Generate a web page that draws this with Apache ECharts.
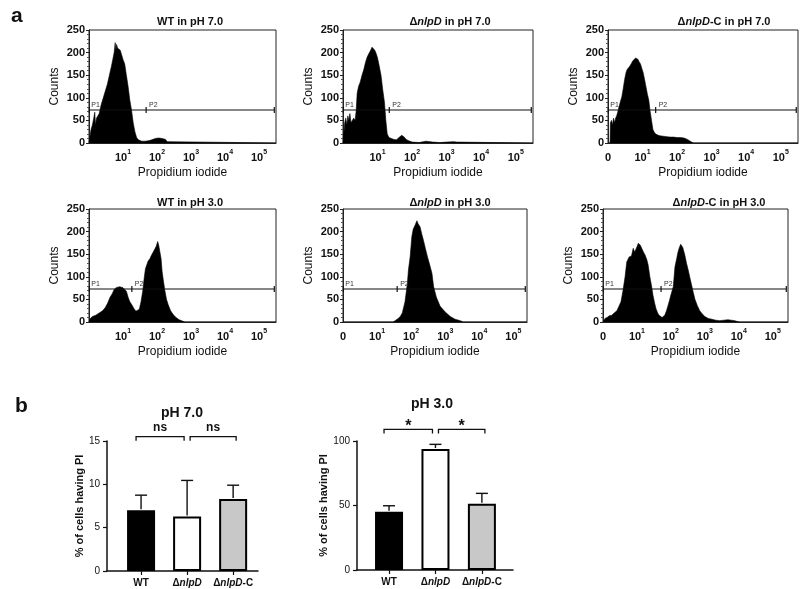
<!DOCTYPE html>
<html><head><meta charset="utf-8">
<script src="https://cdn.jsdelivr.net/npm/echarts@6/dist/echarts.min.js"></script>
<style>html,body{margin:0;padding:0;background:#fff}#c{width:800px;height:589px}</style>
</head><body><div id="c"></div><script>
// ---------- DATA ----------
// histogram x = log10(Propidium iodide), y = counts
const wt7 = [[0,0],[0.04,0],[0.06,30],[0.1,40],[0.14,55],[0.17,68],[0.19,40],[0.22,55],[0.26,60],[0.3,65],[0.36,85],[0.42,100],[0.48,115],[0.54,130],[0.6,150],[0.66,170],[0.7,185],[0.74,200],[0.77,222],[0.79,205],[0.81,218],[0.84,210],[0.88,212],[0.92,205],[0.96,195],[1.0,185],[1.05,175],[1.1,150],[1.15,125],[1.2,95],[1.25,73],[1.3,45],[1.35,25],[1.4,12],[1.45,7],[1.55,4],[1.65,4],[1.75,5],[1.85,7],[1.95,10],[2.05,11],[2.15,10],[2.25,8],[2.3,3],[2.35,0],[5.5,0]];
const dnlpd7 = [[0,0],[0.04,0],[0.05,45],[0.08,55],[0.11,40],[0.14,60],[0.17,50],[0.2,65],[0.23,45],[0.27,50],[0.31,55],[0.35,50],[0.38,70],[0.41,110],[0.45,125],[0.5,135],[0.55,150],[0.6,162],[0.65,178],[0.7,190],[0.75,198],[0.8,205],[0.84,212],[0.88,208],[0.92,205],[0.96,198],[1.0,188],[1.05,170],[1.1,150],[1.15,118],[1.2,90],[1.24,50],[1.28,20],[1.33,12],[1.4,10],[1.47,8],[1.55,7],[1.62,12],[1.7,17],[1.76,14],[1.83,8],[1.9,5],[2.0,2],[2.2,1],[2.4,4],[2.6,2],[2.8,1],[3.0,2],[3.2,3],[3.3,2],[3.34,0],[5.5,0]];
const comp7 = [[0,0],[0.06,0],[0.07,45],[0.1,50],[0.13,40],[0.16,55],[0.19,45],[0.22,55],[0.25,60],[0.28,68],[0.32,80],[0.36,92],[0.4,102],[0.44,120],[0.48,140],[0.52,155],[0.55,162],[0.59,160],[0.63,170],[0.67,175],[0.72,182],[0.76,186],[0.8,188],[0.84,192],[0.87,185],[0.9,180],[0.94,175],[0.98,165],[1.02,155],[1.06,140],[1.1,124],[1.14,108],[1.18,95],[1.22,70],[1.26,50],[1.3,30],[1.35,22],[1.42,18],[1.5,16],[1.6,15],[1.7,14],[1.8,13],[1.9,13],[2.0,12],[2.1,12],[2.2,11],[2.3,8],[2.38,4],[2.43,2],[2.47,0],[5.5,0]];
const wt3 = [[0,0],[0.02,0],[0.04,8],[0.1,12],[0.2,15],[0.3,20],[0.4,25],[0.48,32],[0.55,42],[0.62,55],[0.68,62],[0.74,72],[0.8,76],[0.85,80],[0.9,78],[0.95,82],[1.0,76],[1.05,72],[1.1,68],[1.15,55],[1.2,45],[1.26,38],[1.32,30],[1.38,24],[1.43,22],[1.48,28],[1.53,45],[1.58,68],[1.62,95],[1.66,118],[1.7,122],[1.74,135],[1.79,140],[1.84,148],[1.89,155],[1.94,162],[1.98,168],[2.02,178],[2.05,170],[2.09,166],[2.12,140],[2.15,112],[2.19,90],[2.23,70],[2.28,50],[2.33,38],[2.4,25],[2.48,16],[2.56,10],[2.65,5],[2.75,2],[2.82,0],[5.5,0]];
const dnlpd3 = [[0,0],[1.47,0],[1.55,4],[1.62,8],[1.68,12],[1.74,20],[1.82,45],[1.89,86],[1.92,115],[1.97,144],[2.02,189],[2.06,205],[2.12,215],[2.17,224],[2.2,218],[2.26,211],[2.31,195],[2.36,181],[2.42,162],[2.48,144],[2.55,125],[2.61,108],[2.66,78],[2.74,55],[2.85,35],[3.0,22],[3.15,12],[3.29,6],[3.44,3],[3.53,0],[5.4,0]];
const comp3 = [[0,0],[0.05,0],[0.06,8],[0.12,10],[0.19,14],[0.26,15],[0.33,20],[0.41,25],[0.47,35],[0.53,45],[0.59,70],[0.65,100],[0.7,133],[0.77,144],[0.84,146],[0.89,163],[0.93,155],[0.97,161],[1.01,168],[1.04,174],[1.07,178],[1.1,170],[1.14,163],[1.19,155],[1.24,148],[1.29,138],[1.33,126],[1.38,100],[1.43,80],[1.47,60],[1.52,42],[1.56,30],[1.61,20],[1.65,15],[1.7,12],[1.74,10],[1.78,12],[1.82,15],[1.87,25],[1.91,35],[1.96,48],[2.0,60],[2.04,70],[2.07,78],[2.12,122],[2.17,140],[2.21,155],[2.25,165],[2.29,172],[2.32,170],[2.35,165],[2.41,148],[2.46,130],[2.51,115],[2.56,98],[2.61,82],[2.66,65],[2.71,50],[2.78,36],[2.85,25],[2.92,18],[3.0,12],[3.1,8],[3.21,6],[3.32,4],[3.44,3],[3.56,4],[3.68,5],[3.78,4],[3.88,3],[3.96,1],[4.03,0],[5.45,0]];
const histData = [wt7, dnlpd7, comp7, wt3, dnlpd3, comp3];
const histTitles = ['WT in pH 7.0','ΔnlpD in pH 7.0','ΔnlpD-C in pH 7.0','WT in pH 3.0','ΔnlpD in pH 3.0','ΔnlpD-C in pH 3.0'];
const xExponents = [1,2,3,4,5];
const gateP2 = [1.68, 1.34, 1.38, 1.26, 1.59, 1.71];
const gateLevel = 73;

const categories = ['WT','ΔnlpD','ΔnlpD-C'];
const ph7Mean = [7.0, 6.3, 8.3];
const ph7Err = [1.75, 4.15, 1.6];
const ph3Mean = [45.2, 93.8, 51.4];
const ph3Err = [4.6, 3.6, 8.0];
const sigPairs = [[0,1],[1,2]];
const ph7Sig = ['ns','ns'];
const ph3Sig = ['*','*'];

// ---------- LAYOUT ----------
const FONT = "'Liberation Sans', Arial, sans-serif";
const H = [
 {left:89, top:30, w:187, max:5.5, zero:false, tx:185, ty:11},
 {left:343, top:30, w:190, max:5.5, zero:false, tx:445, ty:11},
 {left:608, top:30, w:190, max:5.5, zero:true, tx:719, ty:11},
 {left:89, top:209, w:187, max:5.5, zero:false, tx:185, ty:192},
 {left:343, top:209, w:184, max:5.4, zero:true, tx:445, ty:192},
 {left:603, top:209, w:185, max:5.45, zero:true, tx:714, ty:192}
];
const ital = s => s.replace('nlpD', '{i|nlpD}');

const grid = [], xAxis = [], yAxis = [], series = [], title = [];
title.push({text:'a', left:6, top:1, textStyle:{fontFamily:FONT, fontSize:21, fontWeight:'bold', color:'#111'}});
title.push({text:'b', left:10, top:391, textStyle:{fontFamily:FONT, fontSize:21, fontWeight:'bold', color:'#111'}});

H.forEach((p, k) => {
  grid.push({left:p.left, top:p.top, width:p.w, height:113, show:true, borderColor:'#222', borderWidth:1, backgroundColor:'transparent', outerBoundsMode:'none'});
  title.push({text: ital(histTitles[k]), left:p.tx, top:p.ty, textAlign:'center',
    textStyle:{fontFamily:FONT, fontSize:11, fontWeight:'bold', color:'#111', rich:{i:{fontFamily:FONT, fontSize:11, fontWeight:'bold', fontStyle:'italic', color:'#111'}}}});
  const xv = (p.zero ? [0] : []).concat(xExponents);
  xAxis.push({type:'value', gridIndex:k, min:0, max:p.max,
    axisLine:{show:true, onZero:false, lineStyle:{color:'#222', width:1}}, axisTick:{show:false}, splitLine:{show:false},
    axisLabel:{customValues:xv, margin:6, color:'#111', fontFamily:FONT, fontSize:11, fontWeight:'bold',
      formatter: v => v === 0 ? '{b|0}' : '{b|10}{s|' + v + '}',
      rich:{b:{fontFamily:FONT, fontSize:11, fontWeight:'bold', color:'#111', lineHeight:14, verticalAlign:'bottom'},
            s:{fontFamily:FONT, fontSize:7, fontWeight:'bold', color:'#111', lineHeight:8, verticalAlign:'top'}}},
    name:'Propidium iodide', nameLocation:'middle', nameGap:24,
    nameTextStyle:{fontFamily:FONT, fontSize:12, color:'#111'}});
  yAxis.push({type:'value', gridIndex:k, min:0, max:250, interval:50,
    axisLine:{show:true, onZero:false, lineStyle:{color:'#222', width:1}},
    axisTick:{show:true, length:3, lineStyle:{color:'#222'}},
    minorTick:{show:true, splitNumber:5, length:2, lineStyle:{color:'#555'}},
    splitLine:{show:false},
    axisLabel:{margin:4, color:'#111', fontFamily:FONT, fontSize:11, fontWeight:'bold'},
    name:'Counts', nameLocation:'middle', nameGap:28, nameRotate:90,
    nameTextStyle:{fontFamily:FONT, fontSize:12, color:'#111'}});
  series.push({type:'line', xAxisIndex:k, yAxisIndex:k, data:histData[k], symbol:'none', showSymbol:false,
    lineStyle:{color:'#000', width:0.6}, areaStyle:{color:'#000', opacity:1}, silent:true, animation:false});
  const gEnd = p.max - 0.05;
  series.push({type:'custom', xAxisIndex:k, yAxisIndex:k, data:[[gateP2[k], gateLevel]], silent:true, animation:false, z:5,
    renderItem:(params, api) => {
      const a = api.coord([0.01, api.value(1)]);
      const b = api.coord([api.value(0), api.value(1)]);
      const c = api.coord([gEnd, api.value(1)]);
      const st = {stroke:'#111', lineWidth:1.2};
      const tick = pt => ({type:'line', shape:{x1:pt[0], y1:pt[1]-3, x2:pt[0], y2:pt[1]+3}, style:st});
      return {type:'group', children:[
        {type:'line', shape:{x1:a[0], y1:a[1], x2:c[0], y2:c[1]}, style:st},
        tick(a), tick(b), tick(c),
        {type:'text', x:a[0]+2, y:a[1]-1, style:{text:'P1', fill:'#333', font:'7px ' + FONT, textVerticalAlign:'bottom'}},
        {type:'text', x:b[0]+3, y:b[1]-1, style:{text:'P2', fill:'#333', font:'7px ' + FONT, textVerticalAlign:'bottom'}}
      ]};
    }});
});

// ---------- BAR CHARTS ----------
const barColors = ['#000000', '#ffffff', '#c8c8c8'];
const B = [
  {left:107, top:441, w:151, h:130, min:-0.74, max:2.54, ymax:15, yint:5, mean:ph7Mean, err:ph7Err, sig:ph7Sig, sigLevel:15.5, sigFont:12, sigGap:9, title:'pH 7.0', tx:177, ty:401, nameGap:20},
  {left:357, top:441, w:156, h:129, min:-0.69, max:2.67, ymax:100, yint:50, mean:ph3Mean, err:ph3Err, sig:ph3Sig, sigLevel:109, sigFont:16, sigGap:3, title:'pH 3.0', tx:427, ty:392, nameGap:25}
];
B.forEach((b, j) => {
  const gi = 6 + j;
  grid.push({left:b.left, top:b.top, width:b.w, height:b.h, show:false, outerBoundsMode:'none'});
  title.push({text:b.title, left:b.tx, top:b.ty, textAlign:'center', textStyle:{fontFamily:FONT, fontSize:14, fontWeight:'bold', color:'#111'}});
  xAxis.push({type:'value', gridIndex:gi, min:b.min, max:b.max, splitLine:{show:false},
    axisLine:{show:true, onZero:false, lineStyle:{color:'#111', width:1.5}},
    axisTick:{show:true, customValues:[0,1,2], length:4, lineStyle:{color:'#111', width:1.2}},
    axisLabel:{customValues:[0,1,2], margin:7, color:'#111', fontFamily:FONT, fontSize:10, fontWeight:'bold',
      formatter: v => ital(categories[Math.round(v)]),
      rich:{i:{fontFamily:FONT, fontSize:10, fontWeight:'bold', fontStyle:'italic', color:'#111'}}}});
  yAxis.push({type:'value', gridIndex:gi, min:0, max:b.ymax, interval:b.yint, splitLine:{show:false},
    axisLine:{show:true, onZero:false, lineStyle:{color:'#111', width:1.5}},
    axisTick:{show:true, length:4, lineStyle:{color:'#111', width:1.2}},
    axisLabel:{margin:7, color:'#111', fontFamily:FONT, fontSize:10},
    name:'% of cells having PI', nameLocation:'middle', nameGap:b.nameGap, nameRotate:90,
    nameTextStyle:{fontFamily:FONT, fontSize:11, fontWeight:'bold', color:'#111'}});
  series.push({type:'bar', xAxisIndex:gi, yAxisIndex:gi, barWidth:28, animation:false, silent:true,
    data: b.mean.map((m, i) => ({value:[i, m], itemStyle:{color:barColors[i], borderColor:'#000', borderWidth:2}}))});
  series.push({type:'custom', xAxisIndex:gi, yAxisIndex:gi, animation:false, silent:true, z:5,
    data: b.mean.map((m, i) => [i, m, b.err[i]]),
    renderItem:(params, api) => {
      const p0 = api.coord([api.value(0), api.value(1)]);
      const p1 = api.coord([api.value(0), api.value(1) + api.value(2)]);
      const st = {stroke:'#111', lineWidth:1.4};
      return {type:'group', children:[
        {type:'line', shape:{x1:p0[0], y1:p0[1]-1, x2:p1[0], y2:p1[1]}, style:st},
        {type:'line', shape:{x1:p1[0]-6, y1:p1[1], x2:p1[0]+6, y2:p1[1]}, style:st}
      ]};
    }});
  series.push({type:'custom', xAxisIndex:gi, yAxisIndex:gi, animation:false, silent:true, z:5,
    data: sigPairs.map((pr, i) => [pr[0], pr[1], b.sigLevel, i]),
    renderItem:(params, api) => {
      const i1 = api.value(0), i2 = api.value(1), lvl = api.value(2);
      const a = api.coord([i1, lvl]), c = api.coord([i2, lvl]);
      const x1 = a[0] + (i1 === 0 ? -5 : 3), x2 = c[0] + (i2 === 1 ? -3 : 3);
      const st = {stroke:'#111', lineWidth:1.3, fill:null};
      return {type:'group', children:[
        {type:'polyline', shape:{points:[[x1, a[1]+4],[x1, a[1]],[x2, a[1]],[x2, a[1]+4]]}, style:st},
        {type:'text', x:(x1+x2)/2, y:a[1]-b.sigGap, style:{text:b.sig[api.value(3)], fill:'#111', font:'bold ' + b.sigFont + 'px ' + FONT, textAlign:'center', textVerticalAlign:'middle'}}
      ]};
    }});
});

const chart = echarts.init(document.getElementById('c'), null, {renderer:'canvas'});
chart.setOption({backgroundColor:'#fff', animation:false, title, grid, xAxis, yAxis, series});
</script></body></html>
